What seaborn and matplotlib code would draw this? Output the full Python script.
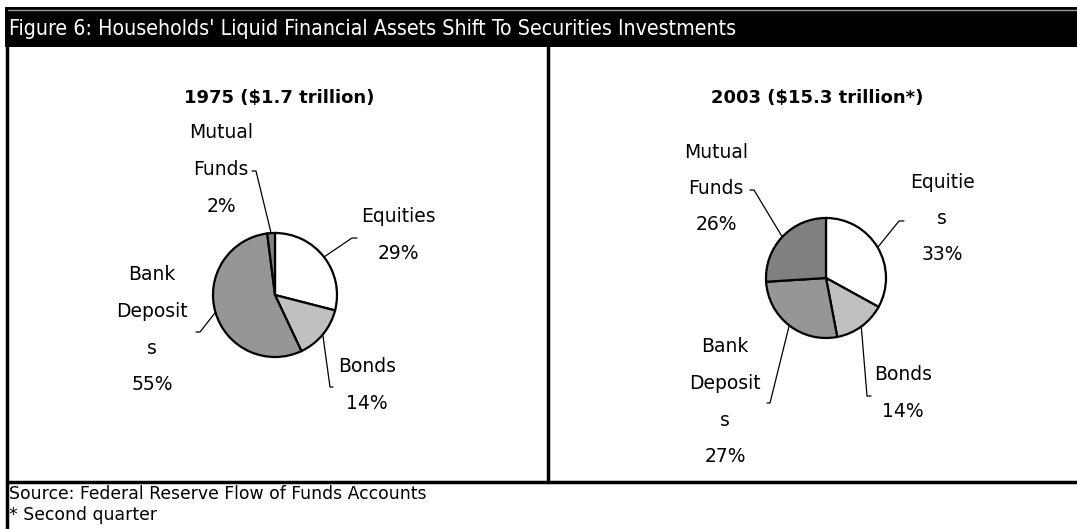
import numpy as np
import matplotlib
matplotlib.use("Agg")
import matplotlib.pyplot as plt
from matplotlib.patches import Rectangle
import seaborn as sns

# data
categories = ["Equities", "Bonds", "Bank Deposits", "Mutual Funds"]
shares_1975 = [29, 14, 55, 2]
shares_2003 = [33, 14, 27, 26]
titles = ["1975 ($1.7 trillion)", "2003 ($15.3 trillion*)"]
wrapped_1975 = [["Equities"], ["Bonds"], ["Bank", "Deposit", "s"], ["Mutual", "Funds"]]
wrapped_2003 = [["Equitie", "s"], ["Bonds"], ["Bank", "Deposit", "s"], ["Mutual", "Funds"]]
header = "Figure 6: Households' Liquid Financial Assets Shift To Securities Investments"
notes = ["Source: Federal Reserve Flow of Funds Accounts", "* Second quarter"]

grays = ["#ffffff", "#c0c0c0", "#969696", "#808080"]

sns.set_theme(style="white")
plt.rcParams["font.family"] = ["DejaVu Sans"]
plt.rcParams["text.color"] = "black"

W, H = 1077, 529
fig = plt.figure(figsize=(W / 100, H / 100), dpi=100)
fig.patch.set_facecolor("white")

bg = fig.add_axes([0, 0, 1, 1])
bg.set_xlim(0, W)
bg.set_ylim(H, 0)
bg.axis("off")

# header bar
bg.add_patch(Rectangle((5, 7), W - 5, 40, facecolor="black", edgecolor="none"))
bg.plot([8, W], [9.5, 9.5], color="#9a9a9a", lw=1)
bg.text(9, 29, header, color="white", fontsize=15.3, fontstretch="condensed",
        va="center", ha="left")

# frame
bg.plot([7, 7], [47, H], color="black", lw=2.5)
bg.plot([548, 548], [47, 482], color="black", lw=2.5)
bg.plot([7, W], [482, 482], color="black", lw=2.5)

bg.text(9, 494, notes[0], fontsize=12.4, va="center", ha="left")
bg.text(9, 515, notes[1], fontsize=12.4, va="center", ha="left")

# layout per pie: centre, radius, title position, label anchors, leader ticks
panels = [
    dict(shares=shares_1975, wrapped=wrapped_1975, title=titles[0],
         c=(275, 295), r=62, tpos=(279, 98),
         lab=[(398, 217), (367, 367), (152, 275), (221, 133)],
         tick=[((357, 238), (352, 238)), ((333, 387), (330, 387)),
               ((196, 332), (200, 332)), ((252, 171), (256, 171))]),
    dict(shares=shares_2003, wrapped=wrapped_2003, title=titles[1],
         c=(826, 278), r=60, tpos=(817, 98),
         lab=[(942, 182), (903, 375), (725, 347), (716, 152)],
         tick=[((904, 221), (899, 221)), ((871, 396), (867, 396)),
               ((767, 403), (770, 403)), ((750, 190), (754, 190))]),
]

step = 36.5
for p in panels:
    cx, cy = p["c"]
    r = p["r"]
    ax = fig.add_axes([(cx - r) / W, 1 - (cy + r) / H, 2 * r / W, 2 * r / H])
    wedges, _ = ax.pie(p["shares"], colors=grays, startangle=90, counterclock=False,
                       radius=1, wedgeprops=dict(edgecolor="black", linewidth=1.6))
    for w in wedges:
        w.set_clip_on(False)
    ax.set_xlim(-1, 1)
    ax.set_ylim(-1, 1)
    ax.axis("off")

    bg.text(p["tpos"][0], p["tpos"][1], p["title"], fontsize=13, fontweight="bold",
            ha="center", va="center")

    for i, w in enumerate(wedges):
        lines = p["wrapped"][i] + [f"{p['shares'][i]}%"]
        lx, ly = p["lab"][i]
        for k, s in enumerate(lines):
            bg.text(lx, ly + k * step, s, fontsize=13.5, ha="center", va="center")
        mid = np.deg2rad((w.theta1 + w.theta2) / 2)
        ex, ey = cx + r * np.cos(mid), cy - r * np.sin(mid)
        (ox, oy), (ix, iy) = p["tick"][i]
        bg.plot([ox, ix, ex], [oy, iy, ey], color="black", lw=0.9)

fig.savefig("out.png", dpi=100, facecolor="white")
